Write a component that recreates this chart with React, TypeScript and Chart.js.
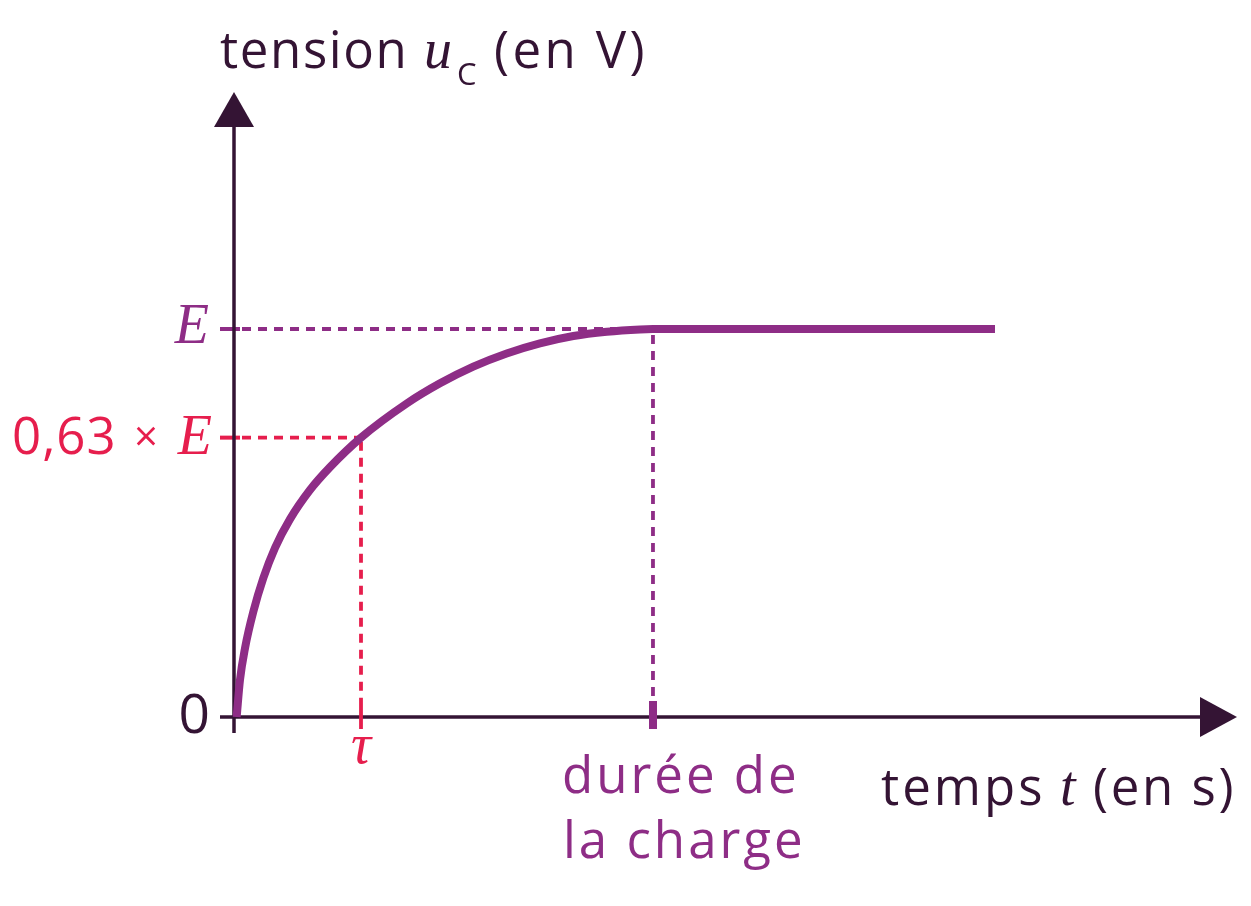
import { useEffect, useRef } from "react";
import { Chart, registerables } from "chart.js";

Chart.register(...registerables);

// ---- data (t in units of tau, u in units of E) ----
const timeValues = [0.021, 0.047, 0.087, 0.152, 0.231, 0.323, 0.441, 0.598, 0.756, 1.0, 1.36, 1.622, 1.884, 2.147, 2.409, 2.672, 2.935, 3.197, 3.299, 5.992];
const tensionValues = [0, 0.095, 0.178, 0.271, 0.358, 0.436, 0.51, 0.585, 0.644, 0.72, 0.808, 0.86, 0.903, 0.937, 0.963, 0.982, 0.993, 0.999, 1.0, 1.0];
const tauValue = 1.0;
const tauLevel = 0.72;
const chargeDuration = 3.299;
const finalLevel = 1.0;
const xRange = [0, 8];
const yRange = [0, 1.6];

const yTickLabels = ["0", "E", "0,63", "×"];
const xTickLabels = ["τ", "durée de", "la charge"];
const yTitle = ["tension", "u", "C", "(en V)"];
const xTitle = ["temps", "t", "(en s)"];

const DARK = "#341434";
const PURPLE = "#8E2D86";
const RED = "#E61E4D";
const SANS = "'Open Sans', Lato, sans-serif";
const SERIF = "'Liberation Serif', 'Times New Roman', Times, serif";
const SANS_FONT = `400 51px ${SANS}`;
const ITAL_FONT = `italic 400 56px ${SERIF}`;

function txt(ctx: CanvasRenderingContext2D, s: string, x: number, y: number, font: string, color: string, align: CanvasTextAlign = "left", spacing = 1.2) {
  ctx.save();
  ctx.font = font;
  ctx.fillStyle = color;
  ctx.textAlign = align;
  ctx.textBaseline = "alphabetic";
  try { (ctx as any).letterSpacing = `${spacing}px`; } catch (e) {}
  ctx.fillText(s, x, y);
  ctx.restore();
}

const decorPlugin = {
  id: "decor",
  beforeDatasetsDraw(chart: any) {
    const ctx: CanvasRenderingContext2D = chart.ctx;
    const xs = chart.scales.x;
    const ys = chart.scales.y;
    const ox = xs.getPixelForValue(0);
    const oy = ys.getPixelForValue(0);
    const pE = ys.getPixelForValue(finalLevel);
    const p63 = ys.getPixelForValue(tauLevel);
    const pTau = xs.getPixelForValue(tauValue);
    const pDur = xs.getPixelForValue(chargeDuration);
    ctx.save();
    // y ticks (under the axis)
    ctx.lineWidth = 4;
    ctx.strokeStyle = PURPLE;
    ctx.beginPath(); ctx.moveTo(ox - 14, pE); ctx.lineTo(ox + 6, pE); ctx.stroke();
    ctx.strokeStyle = RED;
    ctx.beginPath(); ctx.moveTo(ox - 14, p63); ctx.lineTo(ox + 6, p63); ctx.stroke();

    // dashed guides
    ctx.lineWidth = 3.8;
    ctx.setLineDash([9, 7]);
    ctx.strokeStyle = PURPLE;
    ctx.beginPath(); ctx.moveTo(ox + 8, pE); ctx.lineTo(pDur, pE); ctx.stroke();
    ctx.beginPath(); ctx.moveTo(pDur, pE + 6); ctx.lineTo(pDur, oy - 16); ctx.stroke();
    ctx.strokeStyle = RED;
    ctx.beginPath(); ctx.moveTo(ox + 8, p63); ctx.lineTo(pTau, p63); ctx.stroke();
    ctx.beginPath(); ctx.moveTo(pTau, p63 + 4); ctx.lineTo(pTau, oy - 16); ctx.stroke();
    ctx.setLineDash([]);

    // axes
    ctx.strokeStyle = DARK;
    ctx.fillStyle = DARK;
    ctx.lineWidth = 3.5;
    ctx.beginPath(); ctx.moveTo(ox - 14, oy); ctx.lineTo(1203, oy); ctx.stroke();
    ctx.beginPath(); ctx.moveTo(ox, oy + 16); ctx.lineTo(ox, 124); ctx.stroke();
    ctx.beginPath(); ctx.moveTo(1200, oy - 20); ctx.lineTo(1237, oy); ctx.lineTo(1200, oy + 20); ctx.closePath(); ctx.fill();
    ctx.beginPath(); ctx.moveTo(ox - 20, 127); ctx.lineTo(ox, 92); ctx.lineTo(ox + 20, 127); ctx.closePath(); ctx.fill();

    // x ticks (over the axis)
    ctx.strokeStyle = RED;
    ctx.lineWidth = 3.8;
    ctx.beginPath(); ctx.moveTo(pTau, oy - 16); ctx.lineTo(pTau, oy + 12); ctx.stroke();
    ctx.strokeStyle = PURPLE;
    ctx.lineWidth = 8;
    ctx.beginPath(); ctx.moveTo(pDur, oy - 16); ctx.lineTo(pDur, oy + 12); ctx.stroke();
    ctx.restore();
  },
  afterDraw(chart: any) {
    const ctx: CanvasRenderingContext2D = chart.ctx;
    const xs = chart.scales.x;
    const ys = chart.scales.y;
    const ox = xs.getPixelForValue(0);
    const oy = ys.getPixelForValue(0);
    const pE = ys.getPixelForValue(finalLevel);
    const p63 = ys.getPixelForValue(tauLevel);
    const pTau = xs.getPixelForValue(tauValue);
    const pDur = xs.getPixelForValue(chargeDuration);

    // y-axis title
    txt(ctx, yTitle[0], ox - 14, 68, SANS_FONT, DARK, "left", 1.6);
    txt(ctx, yTitle[1], 424, 68, ITAL_FONT, DARK, "left", 0);
    txt(ctx, yTitle[2], 457, 85, `400 31px ${SANS}`, DARK, "left", 0);
    txt(ctx, yTitle[3], 494, 68, SANS_FONT, DARK, "left", 3.4);

    // y tick labels
    txt(ctx, yTickLabels[0], ox - 24, oy + 16, `400 55px ${SANS}`, DARK, "right", 0);
    txt(ctx, yTickLabels[1], ox - 25, pE + 14, ITAL_FONT, PURPLE, "right", 0);
    txt(ctx, yTickLabels[2], 12, p63 + 16, SANS_FONT, RED, "left", 1);
    txt(ctx, yTickLabels[3], 146, p63 + 13, `400 42px ${SANS}`, RED, "center", 0);
    txt(ctx, yTickLabels[1], ox - 22, p63 + 16, ITAL_FONT, RED, "right", 0);

    // x tick labels
    txt(ctx, xTickLabels[0], pTau, oy + 46, ITAL_FONT, RED, "center", 0);
    txt(ctx, xTickLabels[1], pDur - 91, oy + 76, SANS_FONT, PURPLE, "left", 3);
    txt(ctx, xTickLabels[2], pDur - 90, oy + 141, SANS_FONT, PURPLE, "left", 3);

    // x-axis title
    txt(ctx, xTitle[0], 881, oy + 88, SANS_FONT, DARK, "left", 3);
    txt(ctx, xTitle[1], 1060, oy + 88, ITAL_FONT, DARK, "left", 0);
    txt(ctx, xTitle[2], 1093, oy + 88, SANS_FONT, DARK, "left", 2.6);
  },
};

export default function App() {
  const ref = useRef<HTMLCanvasElement | null>(null);
  useEffect(() => {
    if (!ref.current) return;
    const chart = new Chart(ref.current, {
      type: "line",
      data: {
        datasets: [
          {
            data: timeValues.map((t, i) => ({ x: t, y: tensionValues[i] })),
            borderColor: PURPLE,
            borderWidth: 8,
            pointRadius: 0,
            cubicInterpolationMode: "monotone",
            borderCapStyle: "butt",
            borderJoinStyle: "round",
            fill: false,
            clip: false as any,
          },
        ],
      },
      options: {
        animation: false,
        responsive: false,
        devicePixelRatio: 1,
        layout: { padding: { left: 234, right: 1, top: 96.2, bottom: 189 } },
        scales: {
          x: { type: "linear", min: xRange[0], max: xRange[1], display: false },
          y: { type: "linear", min: yRange[0], max: yRange[1], display: false },
        },
        plugins: { legend: { display: false }, tooltip: { enabled: false } },
        events: [],
      },
      plugins: [decorPlugin],
    });
    return () => chart.destroy();
  }, []);
  return (
    <div style={{ position: "absolute", left: 0, top: 0, width: 1251, height: 906, background: "#fff" }}>
      <canvas ref={ref} width={1251} height={906} style={{ display: "block" }} />
    </div>
  );
}
